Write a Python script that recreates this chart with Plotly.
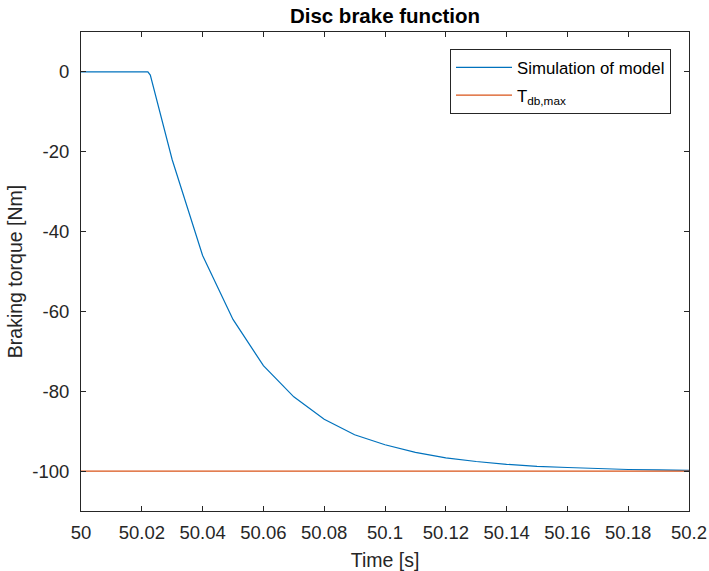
import plotly.graph_objects as go

time_s = [50.0, 50.022, 50.0228, 50.03, 50.04, 50.05, 50.06, 50.07, 50.08, 50.09, 50.10,
          50.11, 50.12, 50.13, 50.14, 50.15, 50.16, 50.17, 50.18, 50.19, 50.20]
torque_nm = [0.0, 0.0, -0.8, -22.0, -46.0, -62.0, -73.6, -81.4, -87.0, -90.9, -93.4,
             -95.3, -96.7, -97.6, -98.3, -98.8, -99.1, -99.4, -99.6, -99.7, -99.8]
tmax_time = [50.0, 50.2]
tmax_val = [-100.0, -100.0]

x_ticks = [50, 50.02, 50.04, 50.06, 50.08, 50.1, 50.12, 50.14, 50.16, 50.18, 50.2]
x_ticklabels = ["50", "50.02", "50.04", "50.06", "50.08", "50.1", "50.12", "50.14", "50.16", "50.18", "50.2"]
y_ticks = [0, -20, -40, -60, -80, -100]
y_ticklabels = ["0", "-20", "-40", "-60", "-80", "-100"]

fig = go.Figure()
fig.add_trace(go.Scatter(x=time_s, y=torque_nm, mode="lines", name="Simulation of model",
                         legendgroup="a",
                         line=dict(color="#0072BD", width=1.2)))
fig.add_trace(go.Scatter(x=tmax_time, y=tmax_val, mode="lines", name="T<sub>db,max</sub>",
                         legendgroup="b",
                         line=dict(color="#D95319", width=1.2)))

font = "Liberation Sans, Arial, sans-serif"
axis_common = dict(showline=True, linecolor="#262626", linewidth=1, mirror="ticks",
                   ticks="inside", ticklen=5, tickcolor="#262626", showgrid=False,
                   zeroline=False, automargin=False,
                   tickfont=dict(family=font, size=18.5, color="#262626"),
                   title_font=dict(family=font, size=19.5, color="#262626"))

fig.update_layout(
    width=709, height=571,
    margin=dict(l=81, r=20, t=32, b=60),
    paper_bgcolor="white", plot_bgcolor="white",
    title=dict(text="<b>Disc brake function</b>", x=(81 + 689) / 2 / 709, xanchor="center",
               y=1 - 16 / 571, yanchor="middle",
               font=dict(family=font, size=20.5, color="black")),
    showlegend=True,
    legend=dict(x=(450 - 81) / 608, y=(511.5 - 48.5) / 480, xanchor="left", yanchor="top",
                bgcolor="white", bordercolor="#262626", borderwidth=1,
                font=dict(family=font, size=16.8, color="black"),
                itemwidth=56, tracegroupgap=3),
    xaxis=dict(range=[50, 50.2], tickvals=x_ticks, ticktext=x_ticklabels,
               ticklabelstandoff=5,
               title=dict(text="Time [s]", standoff=11), **axis_common),
    yaxis=dict(range=[-110, 10], tickvals=y_ticks, ticktext=y_ticklabels,
               ticklabelstandoff=7,
               title=dict(text="Braking torque [Nm]", standoff=4), **axis_common),
)

fig.write_html("out.html",
               config={"displayModeBar": False},
               post_script="document.body.style.margin='0';document.body.style.overflow='hidden';")
